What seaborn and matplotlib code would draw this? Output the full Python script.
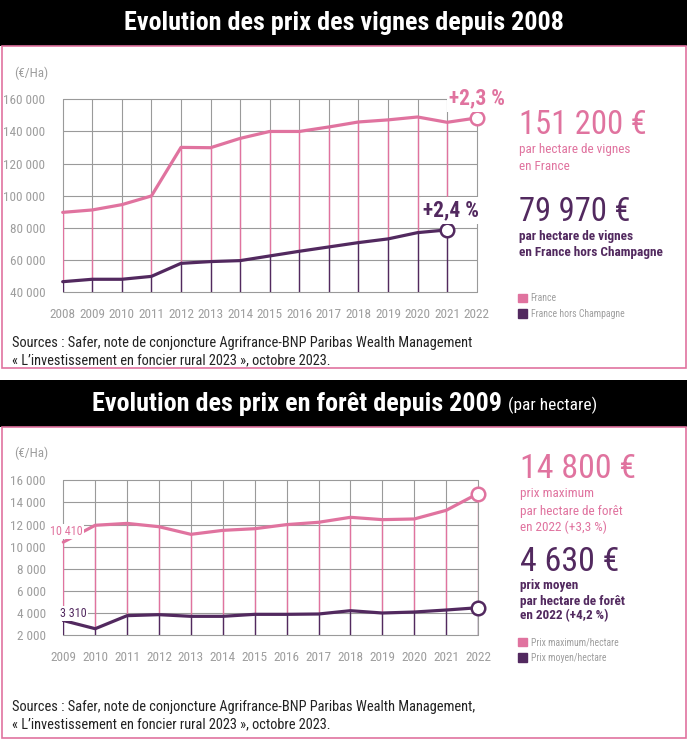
import numpy as np
import pandas as pd
import seaborn as sns
import matplotlib.pyplot as plt
from matplotlib import font_manager
from matplotlib.patches import Rectangle, Patch
from matplotlib.ticker import FuncFormatter

## Data
# vignes (€/ha)
years_v = list(range(2008, 2023))
france = [89700, 91200, 94500, 99900, 130100, 129900, 135700, 140000,
          140000, 142800, 145900, 147200, 149000, 145700, 148400]
hors_champagne = [46600, 48100, 48100, 49900, 58000, 59100, 59700, 62600,
                  65500, 68200, 70900, 73200, 77100, 78800]  # stops at 2021

# forets (€/ha)
years_f = list(range(2009, 2023))
prix_max = [10410, 11930, 12100, 11800, 11110, 11470, 11620, 11990,
            12200, 12650, 12440, 12500, 13280, 14800]
prix_moyen = [3310, 2570, 3750, 3840, 3690, 3690, 3870, 3870,
              3900, 4200, 3990, 4080, 4260, 4470]

PINK = '#e0739f'
PURPLE = '#52295f'
GRID = '#9a9a9a'
TICK = '#9e9e9e'

sns.set_style('white')

# pick the narrowest family that is actually installed
installed = {f.name for f in font_manager.fontManager.ttflist}
narrow = [n for n in ['Roboto Condensed', 'Liberation Sans Narrow', 'Open Sans Condensed',
                      'DejaVu Sans Condensed'] if n in installed]
if narrow:
    FAMILY, K = narrow[0], 1.0
else:
    FAMILY, K = 'Liberation Sans', 0.84
plt.rcParams['font.family'] = [FAMILY, 'DejaVu Sans']

W, H = 688, 740
fig = plt.figure(figsize=(W / 100, H / 100), dpi=100)


def fx(px):
    return px / W


def fy(py):
    return 1 - py / H


def rect(x0, y0, x1, y1, **kw):
    fig.add_artist(Rectangle((fx(x0), fy(y1)), fx(x1) - fx(x0), fy(y0) - fy(y1),
                             transform=fig.transFigure, **kw))


def txt(x, y, s, size, **kw):
    kw.setdefault('va', 'center')
    return fig.text(fx(x), fy(y), s, fontsize=size * K, **kw)


thousands = FuncFormatter(lambda v, _: f"{int(v):,}".replace(",", " "))


def draw_chart(ax, years, top, bottom, ylim, ystep):
    ymin, ymax = ylim
    n = len(bottom)
    # drop lines coloured by series
    ax.vlines(years[:n], bottom, top[:n], color=PINK, lw=1.0, zorder=2)
    ax.vlines(years[:n], ymin, bottom, color=PURPLE, lw=1.0, zorder=2)
    sns.lineplot(x=years, y=top, color=PINK, lw=2.3, ax=ax, zorder=4)
    sns.lineplot(x=years[:n], y=bottom, color=PURPLE, lw=2.3, ax=ax, zorder=4)
    for ln in ax.lines:
        ln.set_clip_on(False)
    ax.set_xlim(years[0], years[-1])
    ax.set_ylim(ymin, ymax)
    ax.set_xticks(years)
    ax.set_yticks(np.arange(ymin, ymax + 1, ystep))
    ax.yaxis.set_major_formatter(thousands)
    ax.grid(True, color=GRID, lw=0.8)
    ax.set_axisbelow(True)
    for gl in ax.get_xgridlines() + ax.get_ygridlines():
        gl.set_clip_on(False)
    for sp in ax.spines.values():
        sp.set_visible(False)
    ax.tick_params(length=0, pad=12.5, labelsize=9.5 * K, labelcolor=TICK)
    ax.tick_params(axis='x', pad=11.5)
    ax.set_xlabel('')
    ax.set_ylabel('')


## Top panel: vignes
rect(0, 0, 687, 46, color='black', lw=0)
rect(1.5, 46, 686, 368, fill=False, ec=PINK, lw=1.2)
txt(344, 23, 'Evolution des prix des vignes depuis 2008', 18.8, ha='center',
    color='white', fontweight='bold')

ax1 = fig.add_axes([fx(62.7), fy(292.3), fx(476.7) - fx(62.7), fy(99.3) - fy(292.3)])
draw_chart(ax1, years_v, france, hors_champagne, (40000, 160000), 20000)
ax1.scatter([years_v[-1]], [france[-1]], s=95, facecolor='white', edgecolor=PINK,
            lw=1.8, zorder=6, clip_on=False)
ax1.scatter([years_v[len(hors_champagne) - 1]], [hors_champagne[-1]], s=95,
            facecolor='white', edgecolor=PURPLE, lw=1.8, zorder=6, clip_on=False)
ax1.annotate('+2,3 %', (years_v[-1], france[-1]), xytext=(0.5, 14), textcoords='offset points',
             ha='center', va='center', color=PINK, fontsize=15.5 * K, fontweight='bold',
             zorder=7, bbox=dict(fc='white', ec='none', pad=1.5))
ax1.annotate('+2,4 %', (years_v[len(hors_champagne) - 1], hors_champagne[-1]), xytext=(3, 14),
             textcoords='offset points', ha='center', va='center', color=PURPLE,
             fontsize=15.5 * K, fontweight='bold', zorder=7,
             bbox=dict(fc='white', ec='none', pad=1.5))
txt(31, 73, '(€/Ha)', 9.5, ha='center', color=TICK)

txt(519, 125, '151 200 €', 23.5, color=PINK)
txt(519, 150, 'par hectare de vignes', 9.5, color=PINK)
txt(519, 166, 'en France', 9.5, color=PINK)
txt(519, 212, '79 970 €', 23.5, color=PURPLE)
txt(519, 237, 'par hectare de vignes', 9.5, color=PURPLE, fontweight='bold')
txt(519, 252, 'en France hors Champagne', 9.5, color=PURPLE, fontweight='bold')
fig.legend(handles=[Patch(color=PINK, label='France'),
                    Patch(color=PURPLE, label='France hors Champagne')],
           loc='upper left', bbox_to_anchor=(fx(518), fy(293)), frameon=False,
           fontsize=7 * K, labelcolor=TICK, handlelength=0.9, handleheight=0.9,
           handletextpad=0.4, labelspacing=0.6, borderaxespad=0, borderpad=0)

txt(12, 343, 'Sources : Safer, note de conjoncture Agrifrance-BNP Paribas Wealth Management',
    10.4, color='#222222')
txt(12, 360, '« L’investissement en foncier rural 2023 », octobre 2023.', 10.4, color='#222222')

## Bottom panel: forets
rect(0, 380, 687, 427, color='black', lw=0)
rect(1.5, 427, 686, 738, fill=False, ec=PINK, lw=1.2)
t_bold = txt(0, 404, 'Evolution des prix en forêt depuis 2009', 18.8, ha='left',
             color='white', fontweight='bold')
t_reg = txt(0, 405, '(par hectare)', 12.5, ha='left', color='white')
fig.canvas.draw()
w_bold = t_bold.get_window_extent().width
w_reg = t_reg.get_window_extent().width
gap = 6
x_start = 345 - (w_bold + gap + w_reg) / 2
t_bold.set_x(fx(x_start))
t_reg.set_x(fx(x_start + w_bold + gap))

ax2 = fig.add_axes([fx(63.3), fy(635), fx(478) - fx(63.3), fy(480.3) - fy(635)])
draw_chart(ax2, years_f, prix_max, prix_moyen, (2000, 16000), 2000)
ax2.scatter([years_f[-1]], [prix_max[-1]], s=95, facecolor='white', edgecolor=PINK,
            lw=1.8, zorder=6, clip_on=False)
ax2.scatter([years_f[-1]], [prix_moyen[-1]], s=95, facecolor='white', edgecolor=PURPLE,
            lw=1.8, zorder=6, clip_on=False)
ax2.annotate(f"{prix_max[0]:,}".replace(",", " "), (years_f[0], prix_max[0]), xytext=(2.5, 7.5),
             textcoords='offset points', ha='center', va='center', color=PINK,
             fontsize=8.7 * K, zorder=7, bbox=dict(fc='white', ec='none', pad=1))
ax2.annotate(f"{prix_moyen[0]:,}".replace(",", " "), (years_f[0], prix_moyen[0]), xytext=(7.5, 5),
             textcoords='offset points', ha='center', va='center', color=PURPLE,
             fontsize=8.7 * K, zorder=7, bbox=dict(fc='white', ec='none', pad=1))
txt(31, 453, '(€/Ha)', 9.5, ha='center', color=TICK)

txt(520, 469, '14 800 €', 24.5, color=PINK)
txt(520, 494, 'prix maximum', 9.5, color=PINK)
txt(520, 511, 'par hectare de forêt', 9.5, color=PINK)
txt(520, 527, 'en 2022 (+3,3 %)', 9.5, color=PINK)
txt(520, 562, '4 630 €', 24.5, color=PURPLE)
txt(520, 586, 'prix moyen', 9.5, color=PURPLE, fontweight='bold')
txt(520, 601, 'par hectare de forêt', 9.5, color=PURPLE, fontweight='bold')
txt(520, 616, 'en 2022 (+4,2 %)', 9.5, color=PURPLE, fontweight='bold')
fig.legend(handles=[Patch(color=PINK, label='Prix maximum/hectare'),
                    Patch(color=PURPLE, label='Prix moyen/hectare')],
           loc='upper left', bbox_to_anchor=(fx(518), fy(637)), frameon=False,
           fontsize=7 * K, labelcolor=TICK, handlelength=0.9, handleheight=0.9,
           handletextpad=0.4, labelspacing=0.6, borderaxespad=0, borderpad=0)

txt(12, 707, 'Sources : Safer, note de conjoncture Agrifrance-BNP Paribas Wealth Management,',
    10.4, color='#222222')
txt(12, 724, '« L’investissement en foncier rural 2023 », octobre 2023.', 10.4, color='#222222')

fig.savefig('out.png', dpi=100)
